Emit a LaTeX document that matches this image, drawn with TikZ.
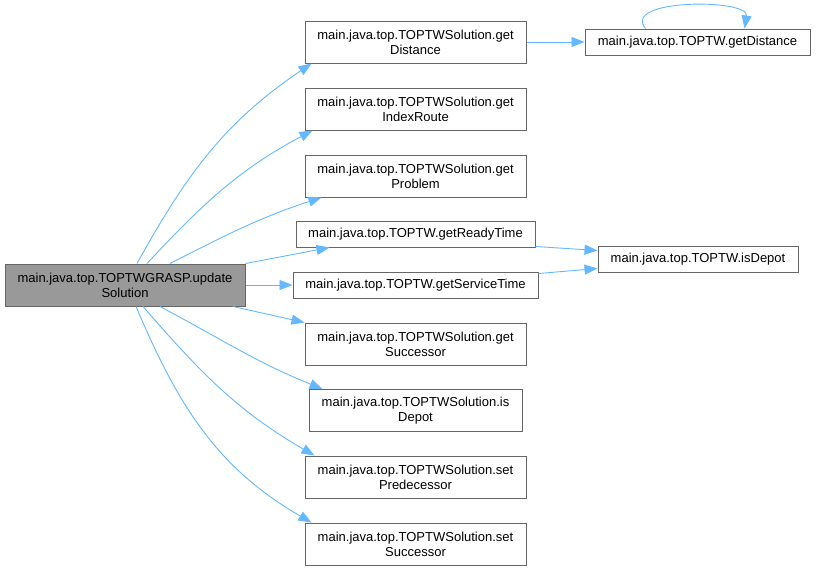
\documentclass[tikz,border=0pt]{standalone}
\usepackage{fontspec}
\setmainfont{Liberation Sans}
\usetikzlibrary{arrows.meta, positioning}
\definecolor{cEdge}{RGB}{99,184,255}
\definecolor{cBorder}{RGB}{102,102,102}
\definecolor{cRoot}{RGB}{153,153,153}
\tikzset{
  basebox/.style={rectangle, draw=cBorder, line width=1pt, inner sep=0pt,
                  align=center, font=\fontsize{13}{15}\selectfont},
  funcnode/.style={basebox, fill=white, minimum width=221pt,
                   minimum height=42pt},
  linenode/.style={basebox, fill=white, minimum height=26pt},
  rootnode/.style={basebox, fill=cRoot, minimum width=240pt,
                   minimum height=42pt},
  callarrow/.style={-{Triangle[length=13pt, width=10pt]}, line width=0.9pt,
                    color=cEdge}
}
\begin{document}
\begin{tikzpicture}[x=1pt, y=-1pt]
  \useasboundingbox (0,0) rectangle (816,571);

  % ── caller ──
  \node[rootnode] (update) at (125,285)
      {main.java.top.TOPTWGRASP.update\\Solution};

  % ── callees ──
  \node[funcnode] (solDist) at (415.5,42)
      {main.java.top.TOPTWSolution.get\\Distance};
  \node[funcnode] (solIndex) at (415.5,109)
      {main.java.top.TOPTWSolution.get\\IndexRoute};
  \node[funcnode] (solProblem) at (415.5,176)
      {main.java.top.TOPTWSolution.get\\Problem};
  \node[linenode, minimum width=239pt] (readyTime) at (415.5,234)
      {main.java.top.TOPTW.getReadyTime};
  \node[linenode, minimum width=245pt] (serviceTime) at (415.5,285)
      {main.java.top.TOPTW.getServiceTime};
  \node[funcnode] (solSucc) at (415.5,344)
      {main.java.top.TOPTWSolution.get\\Successor};
  \node[funcnode, minimum width=213pt] (solDepot) at (415.5,410.5)
      {main.java.top.TOPTWSolution.is\\Depot};
  \node[funcnode] (setPred) at (415.5,477)
      {main.java.top.TOPTWSolution.set\\Predecessor};
  \node[funcnode] (setSucc) at (415.5,544)
      {main.java.top.TOPTWSolution.set\\Successor};

  % ── second level ──
  \node[linenode, minimum width=225pt] (ttDist) at (697.5,42)
      {main.java.top.TOPTW.getDistance};
  \node[linenode, minimum width=200pt] (ttDepot) at (698,259.5)
      {main.java.top.TOPTW.isDepot};

  % ── ARROWS ──
  \draw[callarrow] ([xshift=12pt]update.north) to[out=61, in=214]
      ([xshift=7pt]solDist.south west);
  \draw[callarrow] ([xshift=22pt]update.north) to[out=47, in=208]
      ([xshift=8pt]solIndex.south west);
  \draw[callarrow] ([xshift=45pt]update.north) to[out=27, in=198]
      ([xshift=17pt]solProblem.south west);
  \draw[callarrow] (update.north east) -- ([xshift=34pt]readyTime.south west);
  \draw[callarrow] (update.east) -- (serviceTime.west);
  \draw[callarrow] ([xshift=108pt]update.south) -- (solSucc.north west);
  \draw[callarrow] ([xshift=35pt]update.south) to[out=-28, in=158]
      ([xshift=14pt]solDepot.north west);
  \draw[callarrow] ([xshift=18pt]update.south) to[out=-49, in=150]
      ([xshift=10pt]setPred.north west);
  \draw[callarrow] ([xshift=11pt]update.south) to[out=-67, in=150]
      ([xshift=7pt]setSucc.north west);

  \draw[callarrow] (solDist.east) -- (ttDist.west);
  \draw[callarrow] ([xshift=-52pt]ttDist.north) .. controls +(-25,-30) and +(5,-30)
      .. ([xshift=47pt]ttDist.north);
  \draw[callarrow] ([yshift=1pt]readyTime.south east) -- ([yshift=9pt]ttDepot.west);
  \draw[callarrow] ([yshift=-2pt]serviceTime.north east) -- ([yshift=-9pt]ttDepot.west);

\end{tikzpicture}
\end{document}
